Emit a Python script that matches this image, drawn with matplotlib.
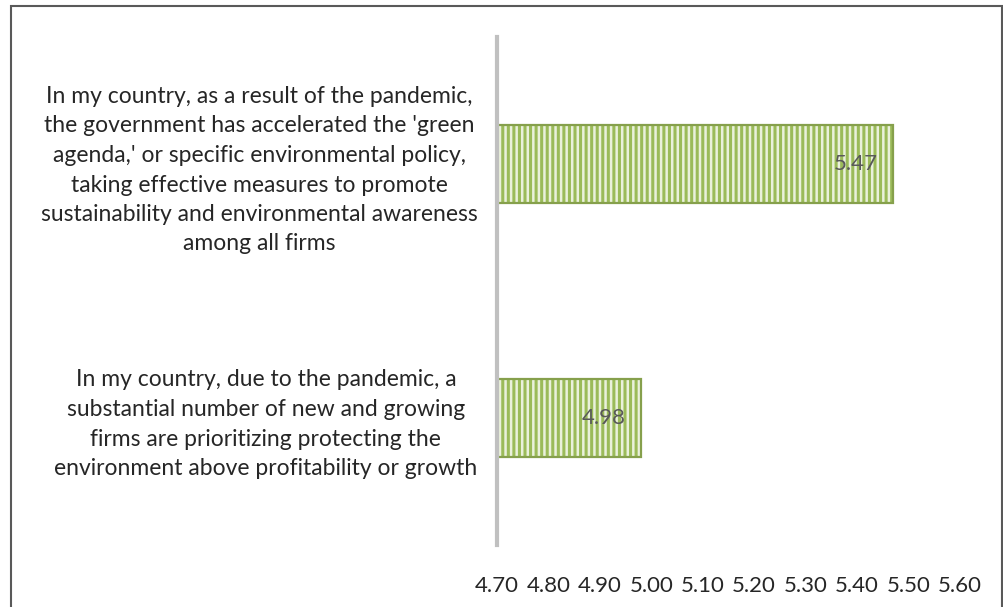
import matplotlib.pyplot as plt
from matplotlib.patches import Rectangle

# chart data (top to bottom)
statements = [
    "In my country, as a result of the pandemic,\nthe government has accelerated the 'green\n"
    "agenda,' or specific environmental policy,\ntaking effective measures to promote\n"
    "sustainability and environmental awareness\namong all firms",
    "In my country, due to the pandemic, a\nsubstantial number of new and growing\n"
    "firms are prioritizing protecting the\nenvironment above profitability or growth",
]
scores = [5.47, 4.98]
x_ticks = [4.70, 4.80, 4.90, 5.00, 5.10, 5.20, 5.30, 5.40, 5.50, 5.60]

plt.rcParams['font.family'] = ['Lato', 'DejaVu Sans']
plt.rcParams['hatch.linewidth'] = 2.2

fig = plt.figure(figsize=(10.04, 6.07), dpi=100)
ax = fig.add_axes([497 / 1004, 1 - 545 / 607, (960 - 497) / 1004, (545 - 37) / 607])

pos = list(range(len(statements)))
bars = ax.barh(pos, scores, height=0.31, color='#EAF1DC', edgecolor='#9BBB59',
               hatch='|||', linewidth=0)
for b in bars:
    # soft darker outline around each bar
    ax.add_patch(Rectangle(b.get_xy(), b.get_width(), b.get_height(), fill=False,
                           edgecolor='#86A04C', linewidth=1.6))

for p, v in zip(pos, scores):
    ax.text(v - 0.03, p, f"{v:.2f}", ha='right', va='center', fontsize=16,
            color='#595959')

ax.set_xlim(x_ticks[0], x_ticks[-1])
ax.set_ylim(-0.5, 1.5)
ax.invert_yaxis()
ax.set_xticks(x_ticks, [f"{t:.2f}" for t in x_ticks])
ax.set_yticks(pos, statements)
for lbl in ax.get_yticklabels():
    lbl.set_multialignment('center')
    lbl.set_linespacing(1.5)
ax.tick_params(axis='y', length=0, pad=14, labelsize=16.5, labelcolor='#262626')
ax.tick_params(axis='x', length=0, pad=22, labelsize=16, labelcolor='#262626')

for s in ['top', 'right', 'bottom']:
    ax.spines[s].set_visible(False)
ax.spines['left'].set_color('#C0C0C0')
ax.spines['left'].set_linewidth(3)

# chart frame
fig.patches.append(Rectangle((11 / 1004, -0.05), 991 / 1004, 1.05 - 6 / 607,
                             transform=fig.transFigure, fill=False,
                             edgecolor='#595959', linewidth=1.5))

fig.savefig('out.png', dpi=100)
